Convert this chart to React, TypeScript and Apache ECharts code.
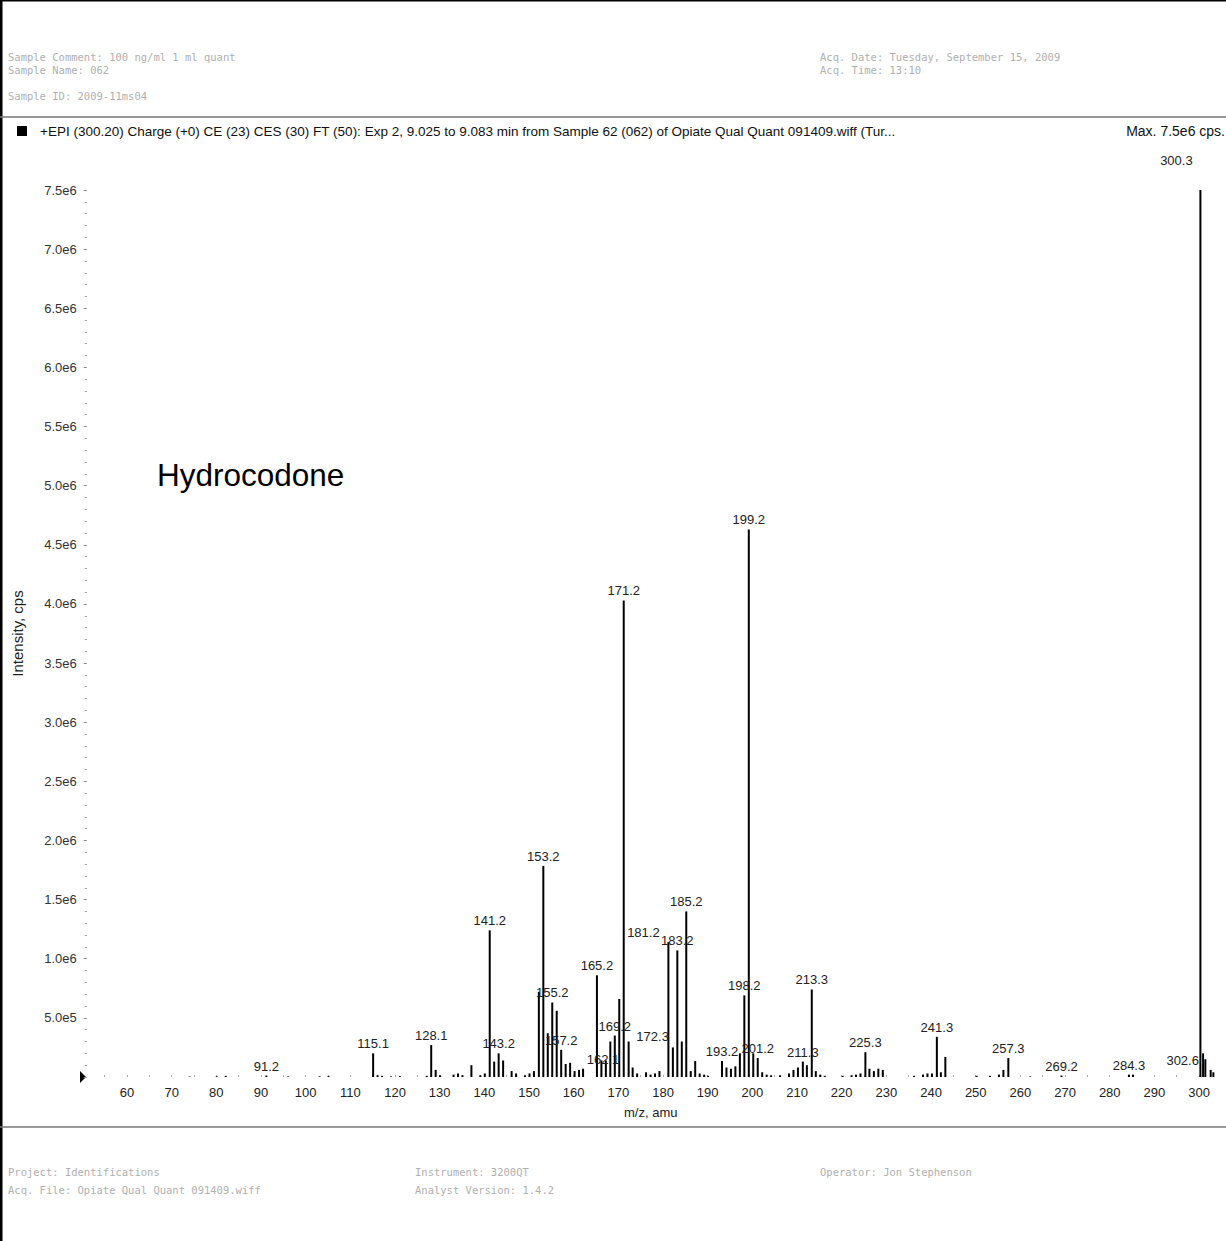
import React, { useEffect, useRef } from 'react';
import * as echarts from 'echarts';

// m/z of each stick (amu)
const mzValues = [
  74.0, 80.1, 82.1, 91.2, 96.1, 103.1, 105.1, 115.1, 116.1, 117.1, 119.1, 121.1, 127.1, 128.1, 129.1, 130.1,
  133.1, 134.1, 135.1, 137.1, 139.1, 140.1, 141.2, 142.2, 143.2, 144.2, 146.1, 147.1, 149.1, 150.1, 151.1,
  152.2, 153.2, 154.2, 155.2, 156.2, 157.2, 158.2, 159.2, 160.2, 161.2, 162.1, 165.2, 166.2, 167.2, 168.2,
  169.2, 170.2, 171.2, 172.3, 173.2, 174.2, 176.2, 177.2, 178.2, 179.2, 181.2, 182.2, 183.2, 184.2, 185.2,
  186.2, 187.2, 188.2, 189.2, 190.1, 193.2, 194.2, 195.2, 196.2, 197.2, 198.2, 199.2, 200.2, 201.2, 202.2,
  203.2, 204.2, 206.2, 208.2, 209.2, 210.2, 211.3, 212.2, 213.3, 214.2, 215.2, 216.2, 220.2, 222.2, 223.2,
  224.2, 225.3, 226.2, 227.2, 228.2, 229.2, 236.2, 238.2, 239.2, 240.2, 241.3, 242.2, 243.2, 250.2, 253.2,
  255.2, 256.2, 257.3, 262.2, 269.2, 284.3, 285.2, 300.3, 300.9, 301.4, 302.6, 303.2,
];

// intensity of each stick (cps)
const intensities = [
  4e3, 6e3, 1.0e4, 1.2e4, 5e3, 6e3, 8e3, 2.0e5, 1.5e4, 1.0e4, 5e3, 7e3, 1.0e4, 2.7e5, 6.0e4, 1.5e4,
  2.0e4, 3.0e4, 1.5e4, 1.0e5, 1.5e4, 3.0e4, 1.24e6, 1.3e5, 2.0e5, 1.4e5, 5.0e4, 3.0e4, 1.5e4, 3.0e4, 5.0e4,
  7.2e5, 1.785e6, 3.7e5, 6.3e5, 5.6e5, 2.3e5, 1.1e5, 1.2e5, 5.0e4, 6.0e4, 7.0e4, 8.6e5, 1.4e5, 1.4e5, 3.0e5,
  3.5e5, 6.6e5, 4.03e6, 3.0e5, 8.0e4, 3.0e4, 4.0e4, 2.0e4, 3.0e4, 5.0e4, 1.14e6, 2.5e5, 1.07e6, 3.0e5, 1.4e6,
  5.0e4, 1.35e5, 3.0e4, 2.0e4, 1.0e4, 1.35e5, 8.0e4, 7.0e4, 9.0e4, 2.0e5, 6.9e5, 4.63e6, 2.0e5, 1.6e5, 4.0e4,
  2.0e4, 1.5e4, 1.5e4, 3.0e4, 6.0e4, 8.0e4, 1.3e5, 1.0e5, 7.4e5, 5.0e4, 2.0e4, 1.0e4, 1.0e4, 1.5e4, 2.0e4,
  3.0e4, 2.1e5, 7.0e4, 5.0e4, 7.0e4, 6.0e4, 1.0e4, 2.0e4, 3.0e4, 3.0e4, 3.4e5, 4.0e4, 1.7e5, 1.0e4, 1.0e4,
  2.0e4, 6.0e4, 1.6e5, 5e3, 1.2e4, 2.0e4, 2.0e4, 7.5e6, 2.0e5, 1.5e5, 6.0e4, 4.0e4,
];

// peaks carrying an m/z label
const peakLabels = [
  '91.2', '115.1', '128.1', '141.2', '143.2', '153.2', '155.2', '157.2', '162.1', '165.2', '169.2', '171.2',
  '172.3', '181.2', '183.2', '185.2', '193.2', '198.2', '199.2', '201.2', '211.3', '213.3', '225.3', '241.3',
  '257.3', '269.2', '284.3', '300.3', '302.6',
];

const xTickLabels = [60, 70, 80, 90, 100, 110, 120, 130, 140, 150, 160, 170, 180, 190, 200, 210, 220, 230, 240, 250, 260, 270, 280, 290, 300];
const xMinorTicks = [55, 65, 75, 85, 95, 105, 115, 125, 135, 145, 155, 165, 175, 185, 195, 205, 215, 225, 235, 245, 255, 265, 275, 285, 295];
const yTickLabels = ['5.0e5', '1.0e6', '1.5e6', '2.0e6', '2.5e6', '3.0e6', '3.5e6', '4.0e6', '4.5e6', '5.0e6', '5.5e6', '6.0e6', '6.5e6', '7.0e6', '7.5e6'];

const titleText = '+EPI (300.20) Charge (+0) CE (23) CES (30) FT (50): Exp 2, 9.025 to 9.083 min from Sample 62 (062) of Opiate Qual Quant 091409.wiff (Tur...';
const maxText = 'Max. 7.5e6 cps.';
const compoundName = 'Hydrocodone';
const headerLeft = ['Sample Comment: 100 ng/ml 1 ml quant', 'Sample Name: 062', 'Sample ID: 2009-11ms04'];
const headerRight = ['Acq. Date: Tuesday, September 15, 2009', 'Acq. Time: 13:10'];
const footerLeft = ['Project: Identifications', 'Acq. File: Opiate Qual Quant 091409.wiff'];
const footerMid = ['Instrument: 3200QT', 'Analyst Version: 1.4.2'];
const footerRight = ['Operator: Jon Stephenson'];

// label displacement (style only)
const labelShift: Record<string, number[]> = {
  '181.2': [-25, 0],
  '162.1': [20, 0],
  '172.3': [24, 4],
  '302.6': [-28, 0],
  '300.3': [-24, -20],
};

const FONT = '"Liberation Sans", Arial, sans-serif';
const TINY = '"DejaVu Sans Mono", monospace';

export default function App() {
  const ref = useRef<HTMLDivElement>(null);
  useEffect(() => {
    if (!ref.current) return;
    const chart = echarts.init(ref.current, undefined, { renderer: 'svg' });

    const data = mzValues.map((mz, i) => {
      const txt = mz.toFixed(1);
      const item: any = { value: [mz, intensities[i]] };
      if (peakLabels.includes(txt)) {
        item.label = { show: true, position: 'top', distance: 3, formatter: txt };
      }
      return item;
    });

    const tinyText = (lines: string[], x: number, ys: number[]) =>
      lines.map((t, i) => ({
        type: 'text',
        x,
        y: ys[i],
        style: { text: t, fontFamily: TINY, fontSize: 10.5, fill: '#b0b0b0', verticalAlign: 'middle' },
      }));

    chart.setOption({
      animation: false,
      backgroundColor: '#ffffff',
      grid: { left: 86.8, right: 11.3, top: 190, bottom: 164 },
      xAxis: {
        type: 'value',
        min: 51,
        max: 303.5,
        name: 'm/z, amu',
        nameLocation: 'middle',
        nameGap: 29,
        nameTextStyle: { fontFamily: FONT, fontSize: 13, color: '#222' },
        axisLine: { show: false },
        splitLine: { show: false },
        axisTick: { show: true, inside: true, length: 2, lineStyle: { color: '#aaa' }, customValues: xMinorTicks.concat(xTickLabels) },
        axisLabel: {
          fontFamily: FONT,
          fontSize: 13,
          color: '#222',
          margin: 9,
          customValues: xTickLabels,
          formatter: (v: number) => String(v),
        },
      },
      yAxis: {
        type: 'value',
        min: 0,
        max: 7.5e6,
        interval: 5e5,
        name: 'Intensity, cps',
        nameLocation: 'middle',
        nameGap: 62,
        nameTextStyle: { fontFamily: FONT, fontSize: 15, color: '#222' },
        axisLine: { show: false },
        splitLine: { show: false },
        axisTick: { show: true, length: 3, lineStyle: { color: '#888' } },
        minorTick: { show: true, splitNumber: 5, length: 2, lineStyle: { color: '#999' } },
        axisLabel: {
          fontFamily: FONT,
          fontSize: 13,
          color: '#333',
          margin: 10,
          formatter: (v: number) => {
            const idx = Math.round(v / 5e5) - 1;
            return idx >= 0 && idx < yTickLabels.length ? yTickLabels[idx] : '';
          },
        },
      },
      series: [
        {
          type: 'bar',
          data,
          barWidth: 2,
          itemStyle: { color: '#000' },
          label: { fontFamily: FONT, fontSize: 13, color: '#222' },
          labelLayout: (params: any) => {
            const txt = mzValues[params.dataIndex].toFixed(1);
            const s = labelShift[txt] || [0, 0];
            return { dx: s[0], dy: s[1], hideOverlap: false };
          },
        },
      ],
      graphic: [
        { type: 'rect', shape: { x: 0, y: 0, width: 2.5, height: 1241 }, style: { fill: '#000' } },
        { type: 'rect', shape: { x: 0, y: 0, width: 1226, height: 1.5 }, style: { fill: '#000' } },
        { type: 'line', shape: { x1: 0, y1: 117, x2: 1226, y2: 117 }, style: { stroke: '#777', lineWidth: 1.5 } },
        { type: 'line', shape: { x1: 0, y1: 1127, x2: 1226, y2: 1127 }, style: { stroke: '#777', lineWidth: 1.5 } },
        { type: 'rect', shape: { x: 17, y: 126, width: 10, height: 10 }, style: { fill: '#000' } },
        {
          type: 'text', x: 40, y: 131,
          style: { text: titleText, fontFamily: FONT, fontSize: 13.5, fill: '#111', verticalAlign: 'middle' },
        },
        {
          type: 'text', x: 1225, y: 131,
          style: { text: maxText, fontFamily: FONT, fontSize: 14, fill: '#111', verticalAlign: 'middle', align: 'right' },
        },
        {
          type: 'text', x: 157, y: 475,
          style: { text: compoundName, fontFamily: FONT, fontSize: 31.5, fill: '#000', verticalAlign: 'middle' },
        },
        { type: 'polygon', shape: { points: [[80, 1071], [86, 1077], [80, 1083]] }, style: { fill: '#000' } },
        ...tinyText(headerLeft, 8, [57, 70, 96]),
        ...tinyText(headerRight, 820, [57, 70]),
        ...tinyText(footerLeft, 8, [1172, 1190]),
        ...tinyText(footerMid, 415, [1172, 1190]),
        ...tinyText(footerRight, 820, [1172]),
      ],
    });
    return () => chart.dispose();
  }, []);
  return <div ref={ref} style={{ position: 'absolute', left: 0, top: 0, width: 1226, height: 1241 }} />;
}
